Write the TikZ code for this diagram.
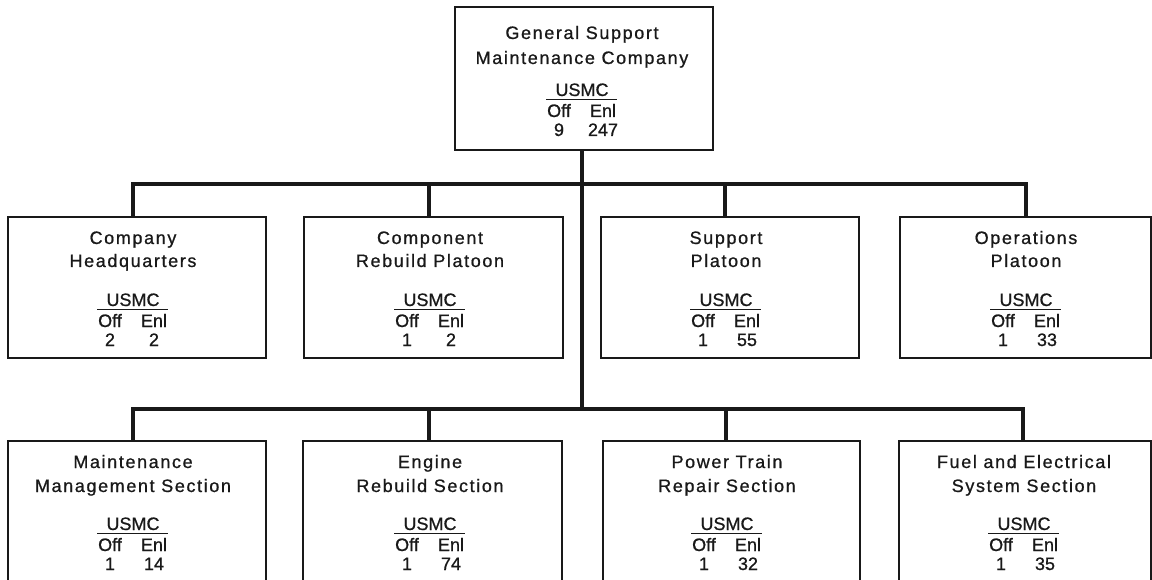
\documentclass[tikz,border=0pt]{standalone}
\usepackage{fontspec}
\setmainfont[FakeBold=0.8]{Liberation Sans}
\newfontfamily\spacedfont[LetterSpace=9,FakeBold=0.8]{Liberation Sans}
\usetikzlibrary{calc}
\definecolor{ink}{RGB}{25,25,25}
\tikzset{
  unitbox/.style={draw=ink, line width=2pt, anchor=north west, inner sep=0pt, outer sep=0pt},
  conn/.style={draw=ink, line width=4pt, line join=miter},
  ttl/.style={anchor=base, inner sep=0pt, font=\spacedfont\fontsize{18}{21}\selectfont, text=ink},
  lbl/.style={anchor=base, inner sep=0pt, font=\fontsize{18}{21}\selectfont, text=ink},
  tabrule/.style={draw=ink, line width=1.3pt},
}
\def\boxh{141}\def\tA{27}\def\tB{51}
% #1 name, #2 content centre x, #3 left, #4 right, #5 top, #6 line 1, #7 line 2, #8 off, #9 enl
\newcommand{\orgunit}[9]{%
  \node[unitbox, minimum width={#4-#3}, minimum height=\boxh] (#1) at (#3,#5) {};
  \node[ttl] (#1-t1) at (#2,#5+\tA) {#6};
  \node[ttl] (#1-t2) at (#2,#5+\tB) {#7};
  \node[lbl] (#1-u) at (#2,#5+89) {USMC};
  \draw[tabrule] (#2-36,#5+92.5) -- (#2+35,#5+92.5);
  \node[lbl] (#1-o) at (#2-23,#5+110) {Off};
  \node[lbl] (#1-e) at (#2+21,#5+110) {Enl};
  \node[lbl] (#1-no) at (#2-23,#5+129) {#8};
  \node[lbl] (#1-ne) at (#2+21,#5+129) {#9};
}
\begin{document}
\begin{tikzpicture}[x=1pt,y=-1pt]
\useasboundingbox (0,0) rectangle (1152,580);
\clip (0,0) rectangle (1152,580);
\fill[white] (0,0) rectangle (1152,580);

% top
\def\boxh{143}\def\tA{32}\def\tB{57}
\orgunit{top}{582}{455}{713}{7}{General Support}{Maintenance Company}{9}{247}

% row 1
\def\boxh{141}\def\tA{27}\def\tB{50}
\orgunit{hq}{133}{8}{266}{217}{Company}{Headquarters}{2}{2}
\orgunit{crp}{430}{304}{563}{217}{Component}{Rebuild Platoon}{1}{2}
\orgunit{sup}{726}{601}{859}{217}{Support}{Platoon}{1}{55}
\orgunit{ops}{1026}{900}{1151}{217}{Operations}{Platoon}{1}{33}

% row 2
\def\tA{27}\def\tB{51}
\orgunit{mms}{133}{8}{266}{441}{Maintenance}{Management Section}{1}{14}
\orgunit{ers}{430}{303}{562}{441}{Engine}{Rebuild Section}{1}{74}
\orgunit{ptr}{727}{603}{860}{441}{Power Train}{Repair Section}{1}{32}
\orgunit{fes}{1024}{899}{1151}{441}{Fuel and Electrical}{System Section}{1}{35}

% bus junctions
\coordinate (b1l) at (133,184);
\coordinate (b1c) at (582,184);
\coordinate (b1m) at (429,184);
\coordinate (b1n) at (725,184);
\coordinate (b1r) at (1026,184);
\coordinate (b2l) at (133,409);
\coordinate (b2c) at (582,409);
\coordinate (b2m) at (429,409);
\coordinate (b2n) at (726,409);
\coordinate (b2r) at (1023,409);

% connectors
\draw[conn] (top.south -| b1c) -- (b2c);
\draw[conn] (hq.north -| b1l) -- (b1l) -- (b1r) -- (ops.north -| b1r);
\draw[conn] (b1m) -- (crp.north -| b1m);
\draw[conn] (b1n) -- (sup.north -| b1n);
\draw[conn] (mms.north -| b2l) -- (b2l) -- (b2r) -- (fes.north -| b2r);
\draw[conn] (b2m) -- (ers.north -| b2m);
\draw[conn] (b2n) -- (ptr.north -| b2n);
\end{tikzpicture}
\end{document}
